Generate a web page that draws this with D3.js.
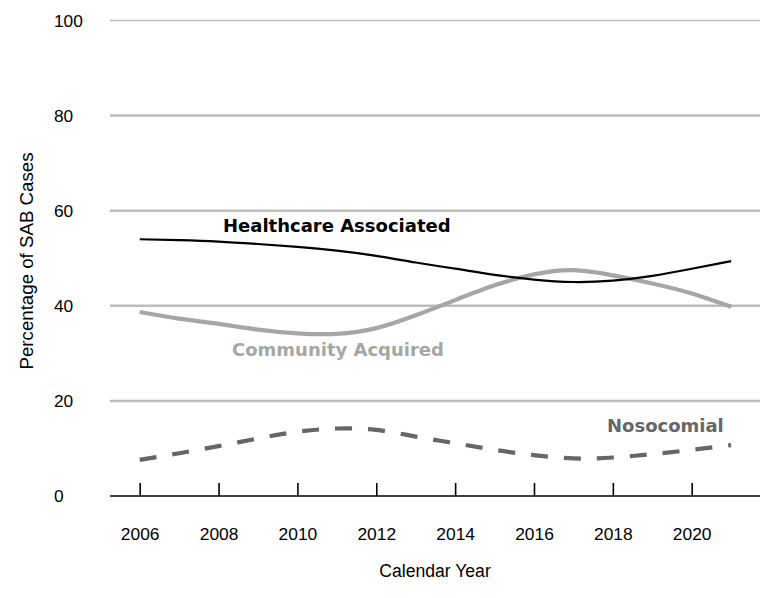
<!DOCTYPE html>
<html><head><meta charset="utf-8">
<script src="https://cdn.jsdelivr.net/npm/d3@7"></script>
<style>body{margin:0;background:#fff}svg{display:block}</style>
</head><body>
<svg id="c" width="777" height="598"></svg>
<script>
const years = [2006,2007,2008,2009,2010,2011,2012,2013,2014,2015,2016,2017,2018,2019,2020,2021];
const healthcareAssociated = [54.0,53.8,53.5,53.0,52.4,51.6,50.5,49.1,47.8,46.5,45.5,45.0,45.3,46.3,47.8,49.4];
const communityAcquired = [38.7,37.3,36.2,35.0,34.2,34.1,35.3,38.0,41.2,44.3,46.6,47.5,46.4,44.7,42.6,39.8];
const nosocomial = [7.6,9.0,10.5,12.1,13.5,14.2,13.9,12.5,11.1,9.7,8.6,7.9,8.1,8.8,9.7,10.7];
const xTicks = [2006,2008,2010,2012,2014,2016,2018,2020];
const yTicks = [0,20,40,60,80,100];

const svg = d3.select("#c");
const font = "'Liberation Sans', Arial, sans-serif";
const boldFont = "'DejaVu Sans', Verdana, sans-serif";

const x = d3.scaleLinear().domain([2006, 2020]).range([139.7, 691.7]);
const y = d3.scaleLinear().domain([0, 100]).range([496, 20.5]);
const left = 110, right = 760;

// gridlines
svg.append("g").selectAll("line").data(yTicks.filter(d => d > 0)).join("line")
  .attr("x1", left).attr("x2", right)
  .attr("y1", d => y(d)).attr("y2", d => y(d))
  .attr("stroke", "#bdbdbd")
  .attr("stroke-width", d => d === 100 ? 1.3 : 2.5);

// y labels
svg.append("g").selectAll("text").data(yTicks).join("text")
  .attr("x", 54).attr("y", d => y(d)).attr("dy", "0.36em")
  .attr("font-family", font).attr("font-size", 17.3).attr("fill", "#000")
  .text(d => d);

// x axis
const xAxis = d3.axisBottom(x).tickValues(xTicks).tickFormat(d3.format("d")).tickSize(-13).tickPadding(0);
const gx = svg.append("g").attr("transform", `translate(0,${y(0)})`).call(xAxis);
gx.select(".domain").remove();
gx.selectAll(".tick line").attr("stroke", "#000").attr("stroke-width", 1.6);
gx.selectAll(".tick text").attr("font-family", font).attr("font-size", 17.4).attr("fill", "#000")
  .attr("y", 0).attr("dy", "2.55em");
svg.append("line").attr("x1", left).attr("x2", right).attr("y1", y(0)).attr("y2", y(0))
  .attr("stroke", "#000").attr("stroke-width", 1.6);

// lines
const line = d3.line().x((d, i) => x(years[i])).y(d => y(d)).curve(d3.curveNatural);
svg.append("path").datum(communityAcquired).attr("d", line)
  .attr("fill", "none").attr("stroke", "#a6a6a6").attr("stroke-width", 4.2);
svg.append("path").datum(healthcareAssociated).attr("d", line)
  .attr("fill", "none").attr("stroke", "#000").attr("stroke-width", 2.2);
svg.append("path").datum(nosocomial).attr("d", line)
  .attr("fill", "none").attr("stroke", "#666").attr("stroke-width", 4.2)
  .attr("stroke-dasharray", "17,16");

// series labels
svg.append("text").attr("x", 223).attr("y", 232).attr("font-family", boldFont)
  .attr("font-weight", "bold").attr("font-size", 18).attr("fill", "#000").text("Healthcare Associated");
svg.append("text").attr("x", 232).attr("y", 356).attr("font-family", boldFont)
  .attr("font-weight", "bold").attr("font-size", 18).attr("fill", "#a6a6a6").text("Community Acquired");
svg.append("text").attr("x", 607).attr("y", 432).attr("font-family", boldFont)
  .attr("font-weight", "bold").attr("font-size", 18).attr("fill", "#666").text("Nosocomial");

// axis titles
svg.append("text").attr("x", 435).attr("y", 576.5).attr("text-anchor", "middle")
  .attr("font-family", font).attr("font-size", 17.6).attr("fill", "#000").text("Calendar Year");
svg.append("text").attr("transform", "translate(33,261) rotate(-90)").attr("text-anchor", "middle")
  .attr("font-family", font).attr("font-size", 18.7).attr("fill", "#000").text("Percentage of SAB Cases");
</script>
</body></html>
